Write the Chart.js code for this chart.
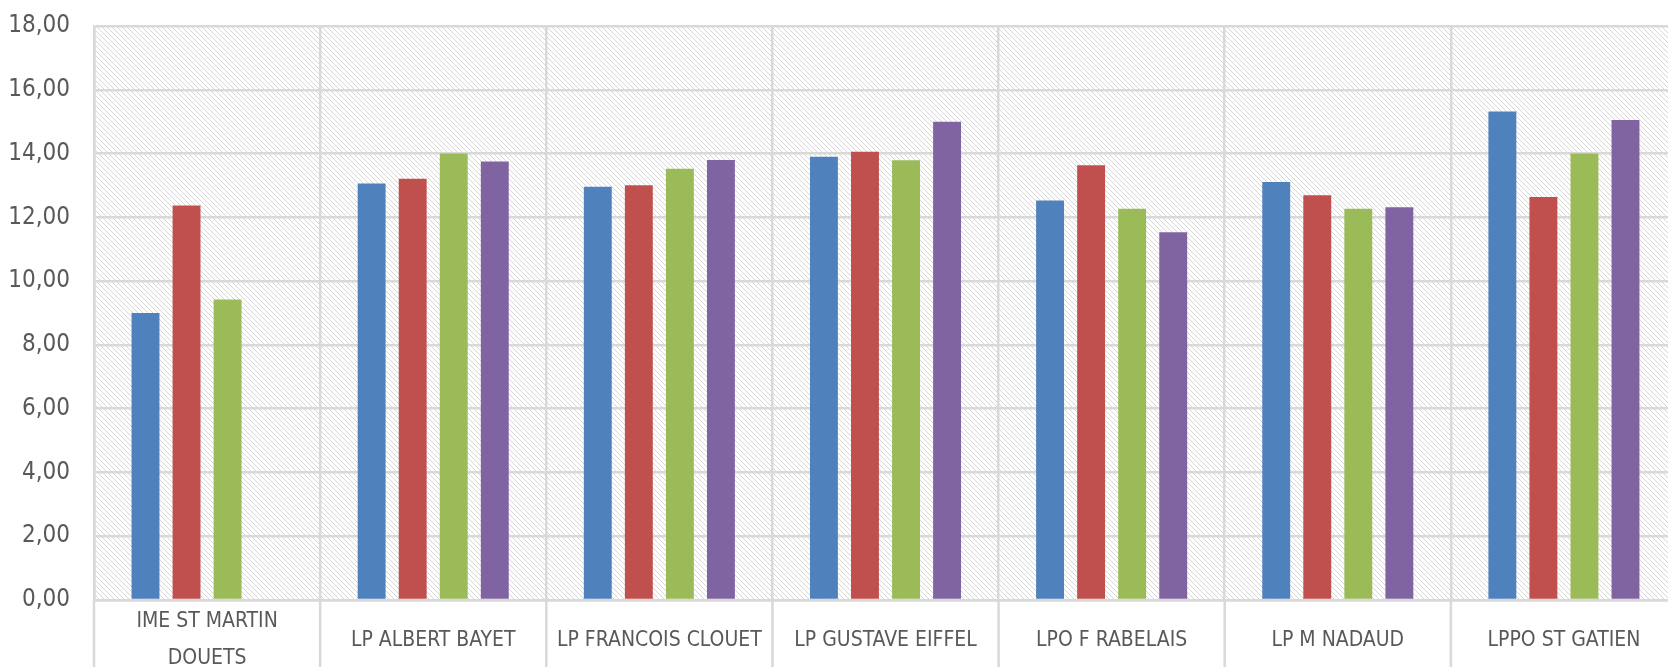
<!DOCTYPE html>
<html>
<head>
<meta charset="utf-8">
<script src="https://cdn.jsdelivr.net/npm/chart.js@4/dist/chart.umd.min.js"></script>
<style>
  html, body { margin: 0; padding: 0; background: #fff; overflow: hidden; width: 1668px; height: 667px; }
  #wrap { position: absolute; left: 0; top: 0; width: 1700px; height: 667px; }
</style>
</head>
<body>
<div id="wrap"><canvas id="c" width="1700" height="667"></canvas></div>
<script>
const categories = [
  ['IME ST MARTIN', 'DOUETS'],
  'LP ALBERT BAYET',
  'LP FRANCOIS CLOUET',
  'LP GUSTAVE EIFFEL',
  'LPO F RABELAIS',
  'LP M NADAUD',
  'LPPO ST GATIEN'
];
const series1 = [9.00, 13.06, 12.96, 13.90, 12.53, 13.11, 15.32];
const series2 = [12.37, 13.21, 13.01, 14.06, 13.63, 12.69, 12.64];
const series3 = [9.42, 14.00, 13.52, 13.79, 12.27, 12.27, 14.00];
const series4 = [null, 13.75, 13.80, 15.00, 11.53, 12.32, 15.05];
const yTickLabels = ['0,00','2,00','4,00','6,00','8,00','10,00','12,00','14,00','16,00','18,00'];

const FONT = '"Liberation Sans Narrow", "DejaVu Sans Condensed", "Liberation Sans", sans-serif';
const TEXT = '#595959';
const GRID = '#d9d9d9';

function makePattern() {
  const s = 5;
  const pc = document.createElement('canvas');
  pc.width = s; pc.height = s;
  const p = pc.getContext('2d');
  p.fillStyle = '#ffffff';
  p.fillRect(0, 0, s, s);
  p.strokeStyle = '#d6d6d6';
  p.lineWidth = 1;
  p.beginPath();
  p.moveTo(-1, -1); p.lineTo(s + 1, s + 1);
  p.moveTo(-1, s - 1); p.lineTo(1, s + 1);
  p.moveTo(s - 1, -1); p.lineTo(s + 1, 1);
  p.stroke();
  return pc;
}

const hatchPlugin = {
  id: 'hatch',
  beforeDraw(chart) {
    const { ctx, chartArea: a } = chart;
    ctx.save();
    ctx.fillStyle = ctx.createPattern(makePattern(), 'repeat');
    ctx.fillRect(a.left, a.top, a.right - a.left, a.bottom - a.top);
    ctx.restore();
  }
};

const dividerPlugin = {
  id: 'dividers',
  afterDraw(chart) {
    const { ctx, chartArea: a, scales } = chart;
    const x = scales.x;
    const n = categories.length;
    const half = (x.getPixelForValue(1) - x.getPixelForValue(0)) / 2;
    ctx.save();
    ctx.strokeStyle = GRID;
    ctx.lineWidth = 2.5;
    ctx.beginPath();
    for (let i = 0; i <= n; i++) {
      const px = i < n ? x.getPixelForValue(i) - half : x.getPixelForValue(n - 1) + half;
      ctx.moveTo(px, a.bottom);
      ctx.lineTo(px, chart.height);
    }
    ctx.stroke();
    ctx.restore();
  }
};

new Chart(document.getElementById('c'), {
  type: 'bar',
  data: {
    labels: categories,
    datasets: [
      { data: series1, backgroundColor: '#4F81BD' },
      { data: series2, backgroundColor: '#C0504D' },
      { data: series3, backgroundColor: '#9BBB59' },
      { data: series4, backgroundColor: '#8064A2' }
    ]
  },
  options: {
    responsive: false,
    animation: false,
    devicePixelRatio: 1,
    categoryPercentage: 0.726,
    barPercentage: 0.68,
    layout: { padding: { top: 26, right: 23, left: 0, bottom: 0 } },
    plugins: { legend: { display: false }, tooltip: { enabled: false } },
    scales: {
      x: {
        afterFit(s) { s.height = 67; s.paddingLeft = 0; s.paddingRight = 0; },
        grid: { offset: true, color: GRID, lineWidth: 2.5, drawTicks: false },
        border: { display: true, color: GRID, width: 2.5 },
        ticks: {
          color: TEXT,
          font: { family: FONT, size: 21, lineHeight: '37px' },
          padding: 22,
          crossAlign: 'center',
          maxRotation: 0,
          autoSkip: false
        }
      },
      y: {
        min: 0, max: 18,
        afterFit(s) { s.width = 94; s.paddingTop = 0; s.paddingBottom = 0; },
        grid: { color: GRID, lineWidth: 2.5, drawTicks: false },
        border: { display: true, color: GRID, width: 2.5 },
        ticks: {
          stepSize: 2,
          color: TEXT,
          font: { family: FONT, size: 24 },
          padding: 24,
          callback: (v, i) => yTickLabels[i]
        }
      }
    }
  },
  plugins: [hatchPlugin, dividerPlugin]
});
</script>
</body>
</html>
